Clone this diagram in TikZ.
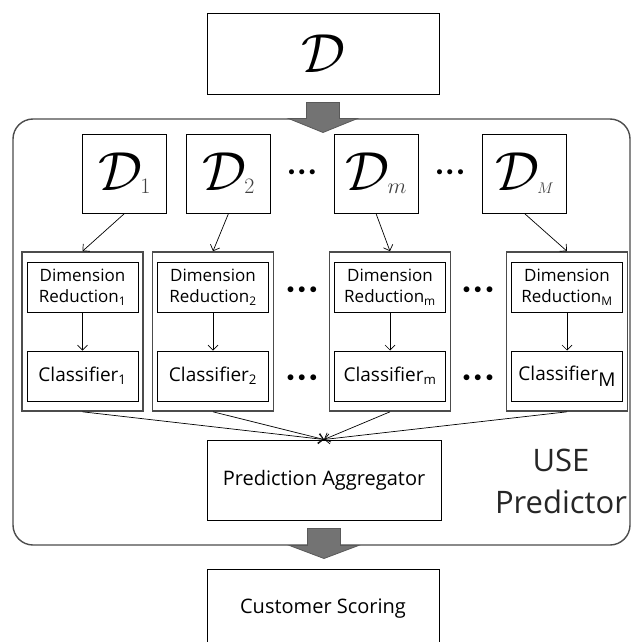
\RequirePackage{fix-cm}
\documentclass[tikz,border=0pt]{standalone}
\usepackage{fontspec}
\newfontfamily\lbl{Open Sans}
\usepackage{tikz}
\usetikzlibrary{calc}
\usetikzlibrary{arrows.meta}

\begin{document}
\begin{tikzpicture}[x=1pt,y=-1pt]

		\tikzstyle{box}    = [draw, inner sep=0pt, fill=white, line width=1pt]
		\tikzstyle{dset}   = [box, minimum width=84pt, minimum height=79pt, font=\fontsize{55}{60}\selectfont]
		\tikzstyle{group}  = [draw=black!70, line width=1.6pt, minimum width=121pt, minimum height=159pt, inner sep=0pt]
		\tikzstyle{redbox} = [box, minimum width=111pt, minimum height=50pt, align=center, font=\lbl\fontsize{17}{21}\selectfont]
		\tikzstyle{clsbox} = [box, minimum width=111pt, minimum height=50pt, font=\lbl\fontsize{19}{22}\selectfont]
		\tikzstyle{widebox}= [box, minimum width=232pt, minimum height=80pt, font=\lbl\fontsize{20}{24}\selectfont]
		\tikzstyle{dotrow} = [inner sep=0pt, font=\fontsize{15}{15}\selectfont]
		\tikzstyle{link}   = [-{Straight Barb[length=5pt,width=10pt]}, line width=0.7pt]
		\tikzstyle{block}  = [fill=black!55, draw=black!65, line width=0.8pt]
		\newcommand{\subs}[1]{\kern-2pt\raisebox{-3pt}{\fontsize{22}{22}\selectfont\color{black!75}$#1$}}
		\newcommand{\threedots}{$\bullet$\hspace{4pt}$\bullet$\hspace{4pt}$\bullet$}

		\useasboundingbox (0,0) rectangle (631,642);

		%%USE predictor frame
		\draw[draw=black!70, line width=1.4pt, rounded corners=20pt] (13,119) rectangle (630,545);

		%%Data
		\node [widebox, font=\fontsize{55}{60}\selectfont](D) at (323,54) {$\mathcal{D}$};
		\node [dset](D1) at (124.5,173.5) {$\mathcal{D}$\subs{1}};
		\node [dset](D2) at (228.5,173.5) {$\mathcal{D}$\subs{2}};
		\node [dset](Dm) at (376,173.5) {$\mathcal{D}$\subs{m}};
		\node [dset](DM) at (524.5,173.5) {$\mathcal{D}$\subs{\scriptstyle M}};
		\node [dotrow, font=\fontsize{13}{13}\selectfont](dots1) at (302,173) {\threedots};
		\node [dotrow, font=\fontsize{13}{13}\selectfont](dots2) at (450,173) {\threedots};

		%%Classifier columns
		\node [group](g1) at (82.5,331.5) {};
		\node [group](g2) at (213,331.5) {};
		\node [group](gm) at (390,331.5) {};
		\node [group](gM) at (567,331.5) {};
		\node [redbox](r1) at (82.5,287) {Dimension\\Reduction\textsubscript{1}};
		\node [redbox](r2) at (213,287) {Dimension\\Reduction\textsubscript{2}};
		\node [redbox](rm) at (390,287) {Dimension\\Reduction\textsubscript{m}};
		\node [redbox](rM) at (567,287) {Dimension\\Reduction\textsubscript{M}};
		\node [clsbox](c1) at (82.5,376) {Classifier\textsubscript{1}};
		\node [clsbox](c2) at (213,376) {Classifier\textsubscript{2}};
		\node [clsbox](cm) at (390,376) {Classifier\textsubscript{m}};
		\node [clsbox](cM) at (567,376) {Classifier\raisebox{-6pt}{M}};
		\node [dotrow](dots3) at (302,290) {\threedots};
		\node [dotrow](dots4) at (478,290) {\threedots};
		\node [dotrow](dots5) at (302,378) {\threedots};
		\node [dotrow](dots6) at (478,378) {\threedots};

		%%Output
		\node [widebox, minimum width=234pt](pred) at (324,480) {Prediction Aggregator};
		\node [align=center, text=black!85, font=\lbl\fontsize{31}{42}\selectfont](use) at (561,481) {USE\\Predictor};
		\node [widebox](cust) at (323,609) {Customer Scoring};

		%%Edges
		\draw[link] (D1.south)--(g1.north);
		\draw[link] (D2.south)--(g2.north);
		\draw[link] (Dm.south)--(gm.north);
		\draw[link] (DM.south)--(gM.north);
		\draw[link] (r1)--(c1);
		\draw[link] (r2)--(c2);
		\draw[link] (rm)--(cm);
		\draw[link] (rM)--(cM);
		\draw[link] (g1.south)--(pred.north);
		\draw[link] (g2.south)--(pred.north);
		\draw[link] (gm.south)--(pred.north);
		\draw[link] (gM.south)--(pred.north);

		%%Block arrows
		\draw[block] ($(D.south)+(-16.5,8)$) -- ++(33,0) -- ++(0,16) -- ++(18,0) -- ($(D.south)+(0,38)$)
			-- ($(D.south)+(-34.5,24)$) -- ++(18,0) -- cycle;
		\draw[block] ($(pred.south)+(-16.5,8)$) -- ++(33,0) -- ++(0,17) -- ++(18,0) -- ($(pred.south)+(0,38)$)
			-- ($(pred.south)+(-34.5,25)$) -- ++(18,0) -- cycle;
	\end{tikzpicture}
\end{document}
